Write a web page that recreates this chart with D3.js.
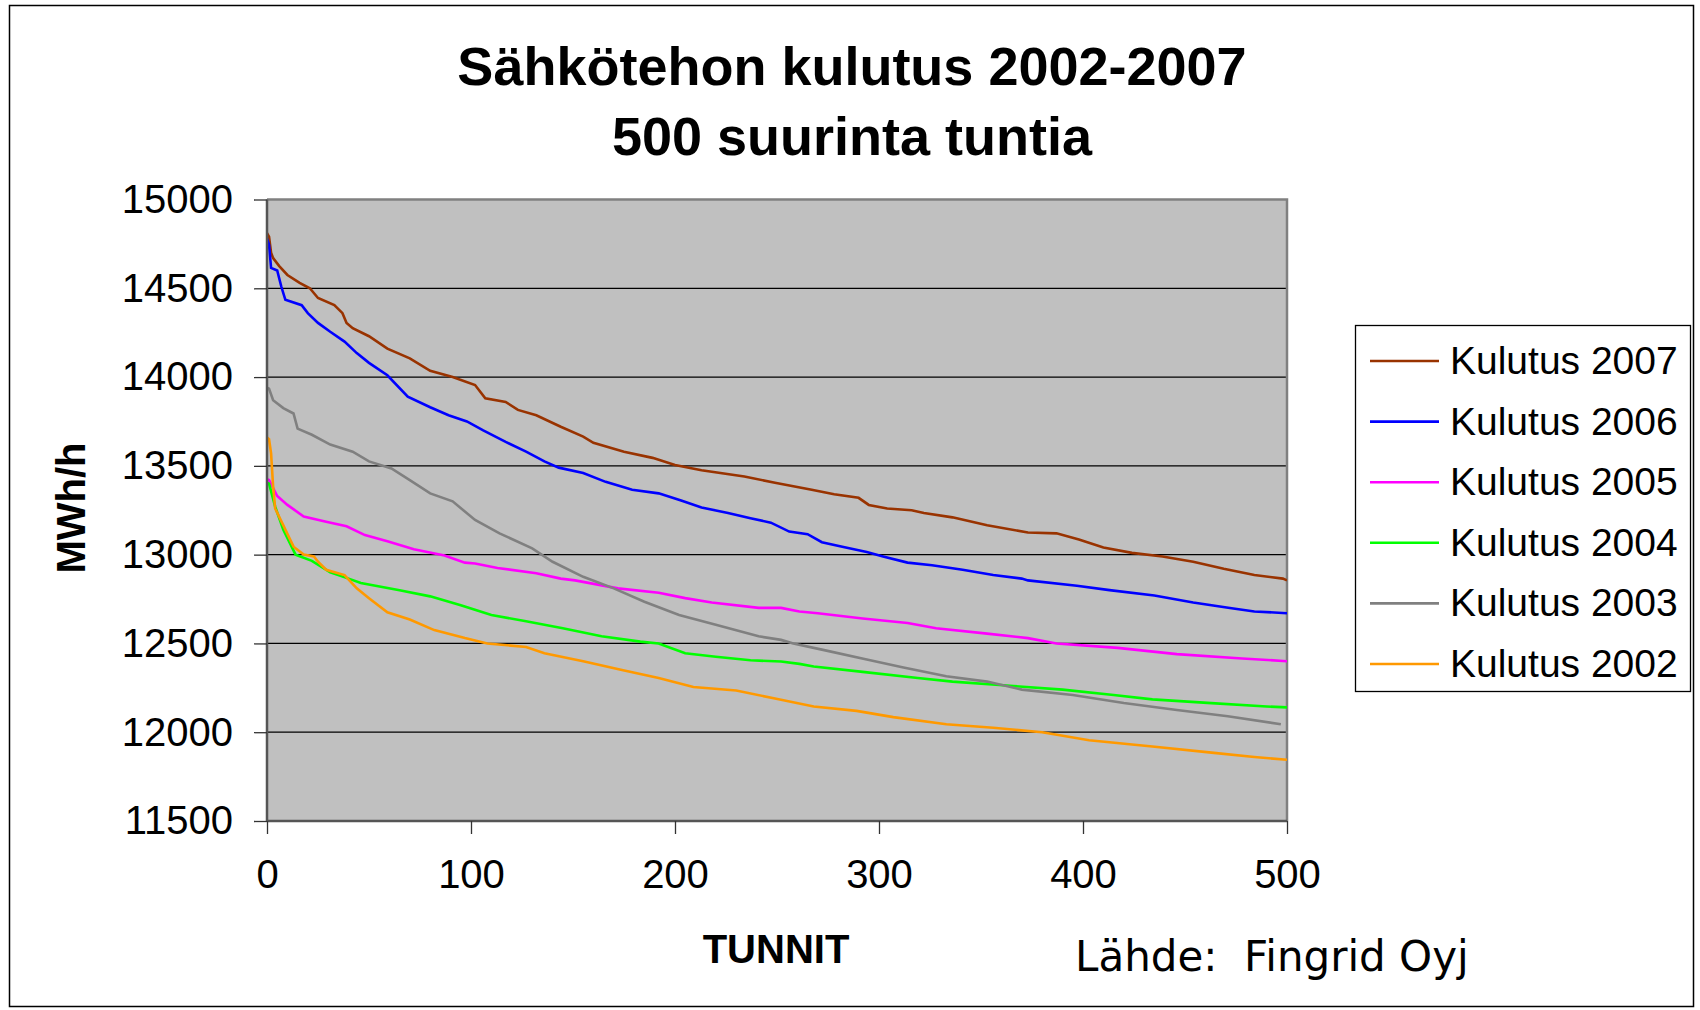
<!DOCTYPE html>
<html>
<head>
<meta charset="utf-8">
<script src="https://cdn.jsdelivr.net/npm/d3@7"></script>
<style>
  body { margin: 0; background: #fff; }
  svg { display: block; font-family: "Liberation Sans", Arial, sans-serif; }
</style>
</head>
<body>
<div id="chart"></div>
<script>
var svgWidth = 1700;
var svgHeight = 1010;

// plot area inside the svg
var plot = { left: 267, top: 199.5, right: 1287, bottom: 821 };

// series names and colours (legend order)
var seriesNames = ["Kulutus 2007", "Kulutus 2006", "Kulutus 2005", "Kulutus 2004", "Kulutus 2003", "Kulutus 2002"];
var seriesColors = ["#993300", "#0000ff", "#ff00ff", "#00ff00", "#808080", "#ff9900"];

// [hour, MWh/h]
var kulutus2007 = [[0,14810],[1,14790],[2,14700],[3,14670],[6,14625],[10,14575],[16,14530],[21,14500],[25,14445],[33,14405],[37,14360],[39,14305],[42,14275],[50,14230],[59,14160],[70,14105],[80,14035],[91,14000],[102,13955],[107,13880],[117,13860],[123,13815],[132,13785],[144,13720],[155,13665],[160,13630],[175,13580],[189,13545],[200,13505],[213,13475],[234,13440],[249,13405],[258,13385],[267,13365],[278,13340],[290,13320],[295,13280],[304,13260],[316,13250],[322,13235],[336,13210],[353,13165],[373,13125],[387,13120],[398,13085],[410,13040],[424,13010],[439,12990],[454,12960],[469,12920],[484,12885],[498,12865],[500,12855]];
var kulutus2006 = [[0,14780],[1,14745],[2,14615],[5,14600],[7,14510],[9,14435],[17,14405],[20,14360],[25,14305],[31,14255],[38,14200],[44,14135],[50,14080],[59,14010],[69,13890],[80,13830],[89,13785],[98,13750],[106,13700],[117,13635],[127,13580],[136,13525],[143,13490],[155,13460],[166,13410],[179,13365],[192,13345],[203,13305],[213,13265],[226,13235],[237,13205],[247,13180],[256,13130],[265,13115],[272,13070],[282,13045],[294,13015],[302,12990],[314,12955],[326,12940],[341,12915],[356,12885],[370,12865],[373,12855],[397,12825],[413,12800],[435,12770],[454,12730],[472,12700],[484,12680],[500,12670]];
var kulutus2005 = [[0,13425],[1,13420],[5,13330],[10,13280],[18,13215],[29,13185],[39,13160],[48,13110],[59,13075],[72,13030],[87,12995],[97,12955],[102,12950],[113,12925],[132,12895],[144,12865],[151,12855],[172,12810],[192,12785],[205,12755],[218,12730],[241,12700],[252,12700],[261,12680],[270,12670],[292,12640],[314,12615],[328,12585],[353,12555],[373,12530],[387,12500],[417,12475],[446,12440],[478,12415],[500,12400]];
var kulutus2004 = [[0,13405],[1,13400],[4,13270],[8,13140],[14,13000],[22,12965],[31,12900],[40,12865],[46,12840],[65,12800],[80,12765],[95,12715],[110,12660],[127,12625],[145,12585],[164,12540],[183,12510],[192,12500],[205,12445],[220,12425],[237,12405],[252,12398],[261,12385],[268,12370],[292,12340],[319,12305],[336,12285],[366,12260],[390,12240],[415,12210],[434,12185],[461,12165],[490,12145],[500,12140]];
var kulutus2003 = [[0,13940],[1,13935],[3,13870],[8,13825],[13,13795],[15,13710],[22,13675],[31,13620],[42,13580],[50,13525],[61,13485],[70,13420],[80,13345],[91,13300],[102,13195],[114,13120],[130,13035],[140,12960],[155,12875],[170,12810],[185,12735],[202,12660],[220,12605],[241,12540],[252,12520],[258,12500],[272,12465],[294,12410],[312,12365],[333,12315],[353,12285],[370,12240],[395,12210],[420,12165],[446,12125],[471,12090],[497,12045]];
var kulutus2002 = [[0,13660],[1,13650],[2,13570],[3,13385],[4,13260],[8,13165],[13,13045],[18,13000],[23,12990],[25,12960],[29,12915],[38,12885],[44,12810],[50,12755],[59,12675],[70,12635],[82,12575],[97,12530],[108,12500],[127,12480],[136,12445],[155,12400],[174,12350],[192,12305],[209,12255],[230,12235],[249,12190],[268,12145],[289,12120],[307,12085],[333,12045],[356,12025],[380,12000],[403,11955],[434,11920],[463,11885],[484,11860],[500,11845]];

var seriesData = [kulutus2007, kulutus2006, kulutus2005, kulutus2004, kulutus2003, kulutus2002];

var yTicks = [11500, 12000, 12500, 13000, 13500, 14000, 14500, 15000];
var xTicks = [0, 100, 200, 300, 400, 500];

var svg = d3.select("#chart")
  .append("svg")
  .attr("width", svgWidth)
  .attr("height", svgHeight);

// outer frame of the chart
svg.append("rect")
  .attr("x", 9.5).attr("y", 5.5)
  .attr("width", 1684).attr("height", 1001)
  .attr("fill", "#fff")
  .attr("stroke", "#000")
  .attr("stroke-width", 1.5);

var xScale = d3.scaleLinear().domain([0, 500]).range([plot.left, plot.right]);
var yScale = d3.scaleLinear().domain([11500, 15000]).range([plot.bottom, plot.top]);

// grey plot background
svg.append("rect")
  .attr("x", plot.left).attr("y", plot.top)
  .attr("width", plot.right - plot.left)
  .attr("height", plot.bottom - plot.top)
  .attr("fill", "#c0c0c0");

// horizontal gridlines
svg.append("g")
  .selectAll("line")
  .data(yTicks.slice(1, -1))
  .enter()
  .append("line")
  .attr("x1", plot.left).attr("x2", plot.right)
  .attr("y1", d => yScale(d)).attr("y2", d => yScale(d))
  .attr("stroke", "#000")
  .attr("stroke-width", 1.3);

// plot border (top / right)
svg.append("path")
  .attr("d", `M${plot.left},${plot.top}H${plot.right}V${plot.bottom}`)
  .attr("fill", "none")
  .attr("stroke", "#808080")
  .attr("stroke-width", 2.5);

svg.append("clipPath").attr("id", "clip")
  .append("rect")
  .attr("x", plot.left).attr("y", plot.top)
  .attr("width", plot.right - plot.left)
  .attr("height", plot.bottom - plot.top);

var line = d3.line()
  .x(d => xScale(d[0]))
  .y(d => yScale(d[1]));

svg.append("g")
  .attr("clip-path", "url(#clip)")
  .selectAll("path")
  .data(seriesData)
  .enter()
  .append("path")
  .attr("d", line)
  .attr("fill", "none")
  .attr("stroke", (d, i) => seriesColors[i])
  .attr("stroke-width", 2.6)
  .attr("stroke-linejoin", "miter");

// axes
var yAxis = d3.axisLeft(yScale).tickValues(yTicks).tickSize(13).tickPadding(21).tickFormat(d3.format("d"));
var xAxis = d3.axisBottom(xScale).tickValues(xTicks).tickSize(13).tickPadding(26).tickFormat(d3.format("d"));

var yAxisG = svg.append("g")
  .attr("transform", `translate(${plot.left}, 0)`)
  .call(yAxis);

var xAxisG = svg.append("g")
  .attr("transform", `translate(0, ${plot.bottom})`)
  .call(xAxis);

[yAxisG, xAxisG].forEach(function(g) {
  g.select(".domain").attr("stroke", "#555").attr("stroke-width", 2.5);
  g.selectAll(".tick line").attr("stroke", "#333").attr("stroke-width", 1.3);
  g.selectAll(".tick text")
    .attr("fill", "#000")
    .style("font-family", "'Liberation Sans', Arial, sans-serif")
    .style("font-size", "40px");
});
yAxisG.select(".domain").attr("d", `M0,${plot.top}V${plot.bottom}`);
xAxisG.select(".domain").attr("d", `M${plot.left},0H${plot.right}`);

// title
svg.append("text")
  .attr("x", 852).attr("y", 85)
  .attr("text-anchor", "middle")
  .style("font-size", "54px").style("font-weight", "bold")
  .text("Sähkötehon kulutus 2002-2007");

svg.append("text")
  .attr("x", 852).attr("y", 155)
  .attr("text-anchor", "middle")
  .style("font-size", "54px").style("font-weight", "bold")
  .text("500 suurinta tuntia");

// axis titles
svg.append("text")
  .attr("transform", "translate(85, 508) rotate(-90)")
  .attr("text-anchor", "middle")
  .style("font-size", "40px").style("font-weight", "bold")
  .text("MWh/h");

svg.append("text")
  .attr("x", 776).attr("y", 963)
  .attr("text-anchor", "middle")
  .style("font-size", "40px").style("font-weight", "bold")
  .text("TUNNIT");

svg.append("text")
  .attr("x", 1075).attr("y", 971)
  .style("font-family", "'DejaVu Sans', Verdana, sans-serif")
  .style("font-size", "42px")
  .attr("xml:space", "preserve")
  .style("white-space", "pre")
  .text("Lähde:  Fingrid Oyj");

// legend
var legend = svg.append("g");
legend.append("rect")
  .attr("x", 1355.5).attr("y", 325.5)
  .attr("width", 335).attr("height", 366)
  .attr("fill", "#fff")
  .attr("stroke", "#000")
  .attr("stroke-width", 1.3);

var legendItems = legend.selectAll("g.item")
  .data(seriesNames)
  .enter()
  .append("g")
  .attr("class", "item")
  .attr("transform", (d, i) => `translate(0, ${361 + i * 60.6})`);

legendItems.append("line")
  .attr("x1", 1370).attr("x2", 1439)
  .attr("y1", 0).attr("y2", 0)
  .attr("stroke", (d, i) => seriesColors[i])
  .attr("stroke-width", 2.6);

legendItems.append("text")
  .attr("x", 1450).attr("y", 13)
  .style("font-size", "39px")
  .text(d => d);
</script>
</body>
</html>
